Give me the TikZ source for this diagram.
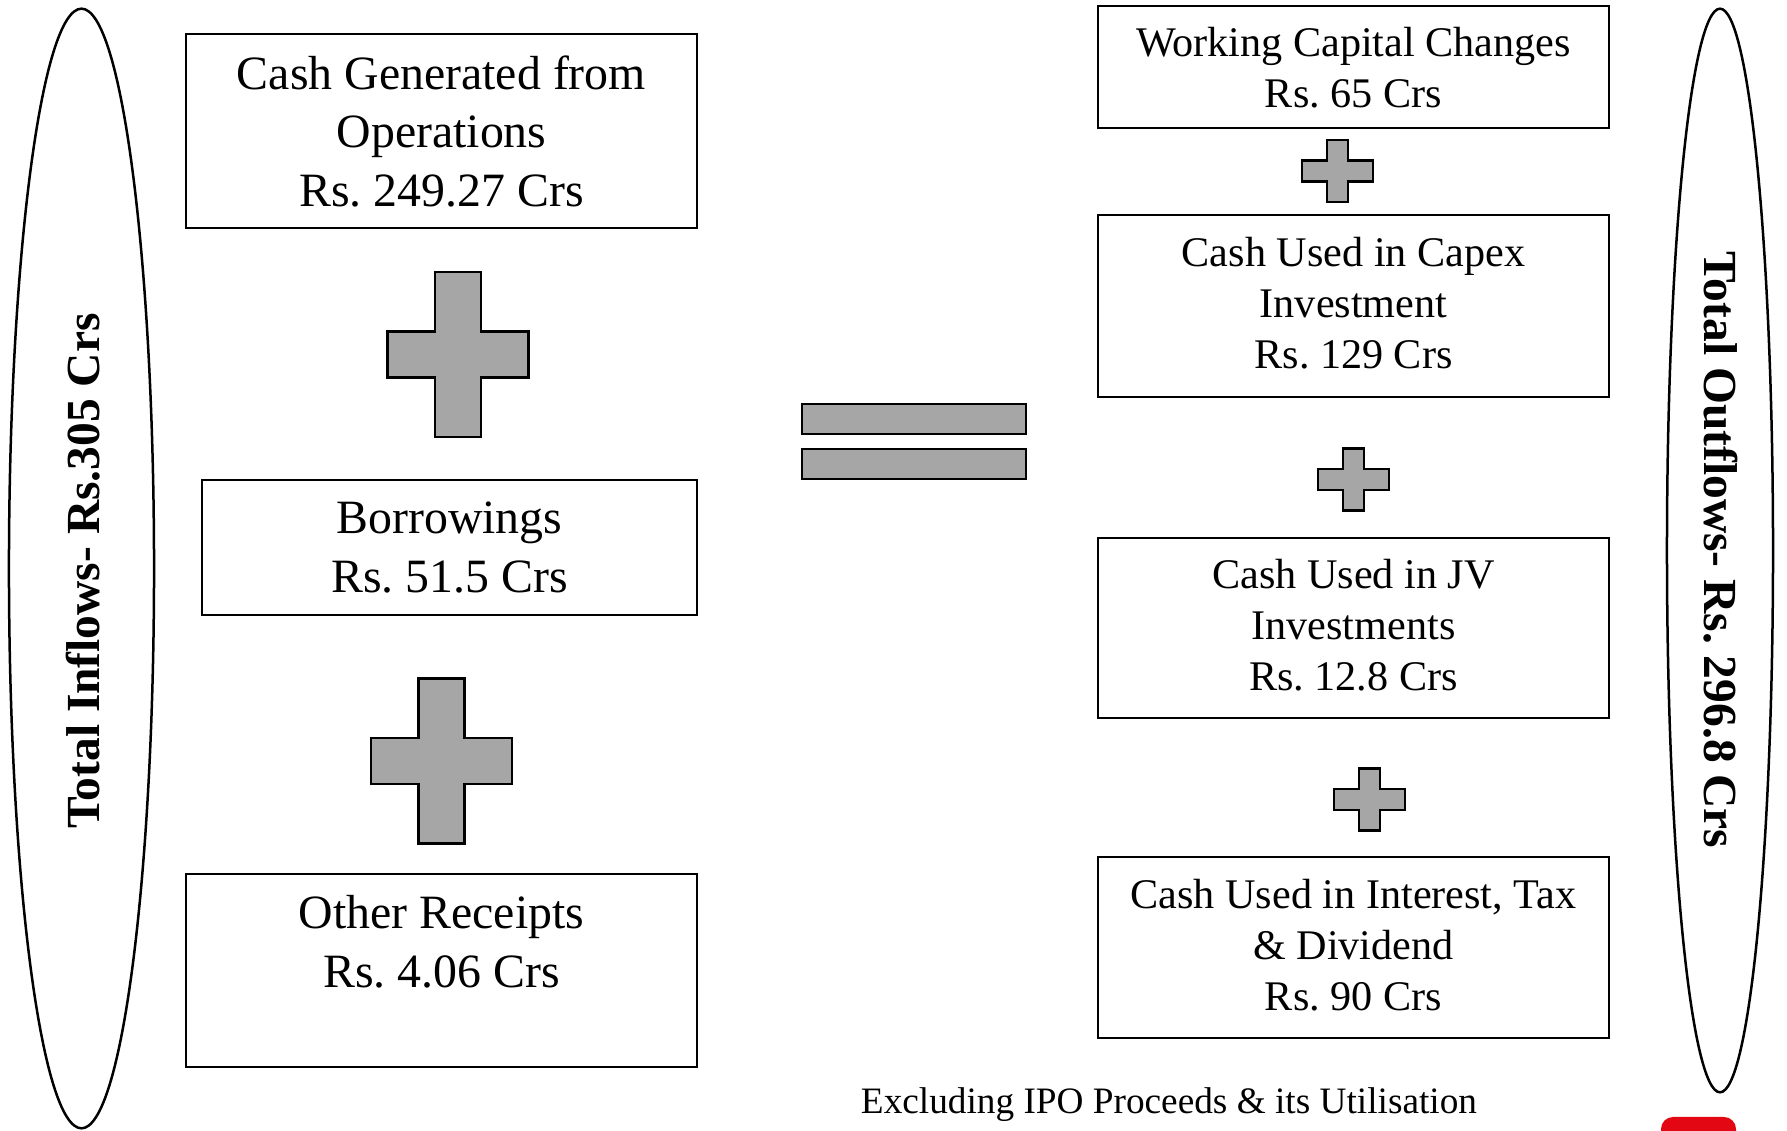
\documentclass[tikz,border=0pt]{standalone}
\usepackage{fontspec}
\setmainfont{Liberation Serif}
\frenchspacing
\usetikzlibrary{shapes.geometric}
\definecolor{plusgray}{HTML}{A6A6A6}
\definecolor{logored}{RGB}{227,6,19}
\begin{document}
\begin{tikzpicture}[x=0.01cm,y=-0.01cm,
 box/.style={draw, line width=0.02cm, inner sep=0, rectangle},
 lefttext/.style={anchor=north, inner sep=0, align=center, font=\fontsize{13.6}{16.6}\selectfont},
 righttext/.style={anchor=north, inner sep=0, align=center, font=\fontsize{12}{14.5}\selectfont},
 oval/.style={draw, ellipse, line width=0.025cm, inner sep=0},
 ovaltext/.style={inner sep=0, font=\fontsize{13.5}{16}\selectfont\bfseries},
 sym/.style={draw, fill=plusgray, line width=0.025cm},
 bigplus/.pic={\draw[sym] (-23,-82.5) -- (23,-82.5) -- (23,-23) -- (70.5,-23) -- (70.5,23) -- (23,23) -- (23,82.5) -- (-23,82.5) -- (-23,23) -- (-70.5,23) -- (-70.5,-23) -- (-23,-23) -- cycle;},
 smallplus/.pic={\draw[sym] (-10.5,-31) -- (10.5,-31) -- (10.5,-10.5) -- (35.5,-10.5) -- (35.5,10.5) -- (10.5,10.5) -- (10.5,31) -- (-10.5,31) -- (-10.5,10.5) -- (-35.5,10.5) -- (-35.5,-10.5) -- (-10.5,-10.5) -- cycle;},
]
\useasboundingbox (0,0) rectangle (1787,1131);
\clip (0,0) rectangle (1787,1131);

% ellipses
\node[oval, minimum width=1.45cm, minimum height=11.19cm] (ein) at (81.5,568.5) {};
\node[ovaltext, rotate=90] (tin) at (83,571) {Total Inflows- Rs.305 Crs};
\node[oval, minimum width=1.06cm, minimum height=10.83cm] (eout) at (1720,550.5) {};
\node[ovaltext, rotate=-90] (tout) at (1721,550) {Total Outflows- Rs. 296.8 Crs};

% left boxes
\node[box, minimum width=5.11cm, minimum height=1.94cm] (b1) at (441.5,131) {};
\node[lefttext] (t1) at ([yshift=-0.22cm]b1.north) {Cash Generated from\\Operations\\Rs. 249.27 Crs};
\node[box, minimum width=4.95cm, minimum height=1.35cm] (b2) at (449.5,547.5) {};
\node[lefttext] (t2) at ([yshift=-0.225cm]b2.north) {Borrowings\\Rs. 51.5 Crs};
\node[box, minimum width=5.11cm, minimum height=1.93cm] (b3) at (441.5,970.5) {};
\node[lefttext] (t3) at ([yshift=-0.22cm]b3.north) {Other Receipts\\Rs. 4.06 Crs};

% right boxes
\node[box, minimum width=5.11cm, minimum height=1.22cm] (r1) at (1353.5,67) {};
\node[righttext] (s1) at ([yshift=-0.22cm]r1.north) {Working Capital Changes\\Rs. 65 Crs};
\node[box, minimum width=5.11cm, minimum height=1.82cm] (r2) at (1353.5,306) {};
\node[righttext] (s2) at ([yshift=-0.23cm]r2.north) {Cash Used in Capex\\Investment\\Rs. 129 Crs};
\node[box, minimum width=5.11cm, minimum height=1.80cm] (r3) at (1353.5,628) {};
\node[righttext] (s3) at ([yshift=-0.22cm]r3.north) {Cash Used in JV\\Investments\\Rs. 12.8 Crs};
\node[box, minimum width=5.11cm, minimum height=1.81cm] (r4) at (1353.5,947.5) {};
\node[righttext] (s4) at ([yshift=-0.23cm]r4.north) {Cash Used in Interest, Tax\\\& Dividend\\Rs. 90 Crs};

% plus signs
\pic at (458,354.5) {bigplus};
\pic at (441.5,761) {bigplus};
\pic at (1337.5,171) {smallplus};
\pic at (1353.5,479.5) {smallplus};
\pic at (1369.5,799.5) {smallplus};

% equals sign
\draw[sym] (802,404) rectangle (1026,434);
\draw[sym] (802,449) rectangle (1026,479);

% footer
\node[inner sep=0, anchor=base, font=\fontsize{10.6}{12}\selectfont] (foot) at (1169,1114) {Excluding IPO Proceeds \& its Utilisation};

% logo fragment
\fill[logored, rounded corners=0.12cm] (1661,1117) rectangle (1736,1160);
\end{tikzpicture}
\end{document}
